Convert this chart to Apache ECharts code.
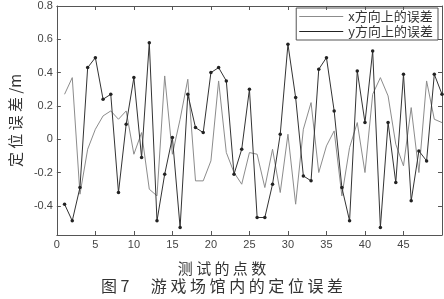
<!DOCTYPE html>
<html>
<head>
<meta charset="utf-8">
<script src="https://cdn.jsdelivr.net/npm/echarts@6/dist/echarts.min.js"></script>
<style>
html,body{margin:0;padding:0;background:#fff;}
#c{width:444px;height:299px;}
</style>
</head>
<body>
<div id="c"></div>
<script>
// ---- data ----
var pointIdx = [1,2,3,4,5,6,7,8,9,10,11,12,13,14,15,16,17,18,19,20,21,22,23,24,25,26,27,28,29,30,31,32,33,34,35,36,37,38,39,40,41,42,43,44,45,46,47,48,49,50];
var xErr = [0.27,0.37,-0.33,-0.06,0.06,0.14,0.17,0.12,0.17,-0.09,0.04,-0.30,-0.34,0.38,-0.09,0.12,0.36,-0.25,-0.25,-0.13,0.35,-0.08,-0.20,-0.27,-0.08,-0.09,-0.29,-0.06,-0.32,0.03,-0.39,0.06,0.22,-0.20,-0.04,0.05,-0.34,-0.05,0.10,-0.20,0.27,0.37,0.26,-0.03,-0.16,0.19,-0.20,0.35,0.12,0.10];
var yErr = [-0.39,-0.49,-0.29,0.43,0.49,0.24,0.27,-0.32,0.09,0.37,-0.11,0.58,-0.49,-0.21,0.01,-0.53,0.27,0.07,0.04,0.40,0.43,0.35,-0.21,-0.06,0.30,-0.47,-0.47,-0.27,0.03,0.57,0.25,-0.22,-0.25,0.42,0.49,0.17,-0.29,-0.49,0.41,0.10,0.53,-0.53,0.10,-0.26,0.39,-0.37,-0.07,-0.13,0.39,0.27];
var yTicks = [-0.4,-0.2,0,0.2,0.4,0.6,0.8];
var seriesNames = ['x方向上的误差','y方向上的误差'];
var titleText = '图 7      游 戏 场 馆 内 的 定 位 误 差';
var xName = '测 试 的 点 数';
var yName = '定 位 误 差 /m';

function pairs(vals){ return pointIdx.map(function(x,i){ return [x, vals[i]]; }); }

var axisCol = '#555';
var chart = echarts.init(document.getElementById('c'), null, {renderer:'canvas'});
var baseX = {type:'value', min:0, max:50, interval:5,
  axisLine:{show:true, onZero:false, lineStyle:{color:axisCol,width:1}},
  axisTick:{show:true, inside:true, length:4, lineStyle:{color:axisCol}},
  splitLine:{show:false}};
var baseY = {type:'value', min:-0.575, max:0.8,
  axisLine:{show:true, onZero:false, lineStyle:{color:axisCol,width:1}},
  axisTick:{show:true, inside:true, length:4, customValues:yTicks, lineStyle:{color:axisCol}},
  splitLine:{show:false}};

chart.setOption({
  animation:false,
  backgroundColor:'#fff',
  title:[
    {text:xName, left:'center', top:256, textStyle:{fontFamily:'Noto Sans CJK SC', fontSize:15, fontWeight:'normal', color:'#333'}},
    {text:titleText, left:'center', top:273, textStyle:{fontFamily:'Noto Sans CJK SC', fontSize:16, fontWeight:'normal', color:'#333'}}
  ],
  grid:{left:44, right:2, top:6, bottom:64},
  legend:{
    orient:'vertical', right:6, top:8, data:seriesNames,
    icon:'rect', itemWidth:44, itemHeight:1, itemGap:2,
    borderColor:axisCol, borderWidth:1, borderRadius:0, padding:[2,5,2,3],
    textStyle:{fontFamily:'Noto Sans CJK SC', fontSize:13, color:'#333'}
  },
  xAxis:[
    Object.assign({}, baseX, {position:'bottom',
      axisLabel:{show:true, showMaxLabel:false, color:'#444', fontSize:11, fontFamily:'Liberation Sans', margin:4}}),
    Object.assign({}, baseX, {position:'top', axisLabel:{show:false}})
  ],
  yAxis:[
    Object.assign({}, baseY, {position:'left',
      axisLabel:{show:true, customValues:yTicks, color:'#444', fontSize:11, fontFamily:'Liberation Sans', margin:4,
        formatter:function(v){ return String(Math.round(v*10)/10); }},
      name:yName, nameLocation:'middle', nameGap:23, nameRotate:90,
      nameTextStyle:{fontFamily:'Noto Sans CJK SC', fontSize:15, color:'#333'}}),
    Object.assign({}, baseY, {position:'right', axisLabel:{show:false}})
  ],
  series:[
    {name:seriesNames[0], type:'line', data:pairs(xErr), showSymbol:false, symbol:'none',
     lineStyle:{color:'#8c8c8c', width:1}, itemStyle:{color:'#8c8c8c'}},
    {name:seriesNames[1], type:'line', data:pairs(yErr), symbol:'circle', symbolSize:3.5,
     lineStyle:{color:'#333', width:1}, itemStyle:{color:'#222'}}
  ]
});
</script>
</body>
</html>
